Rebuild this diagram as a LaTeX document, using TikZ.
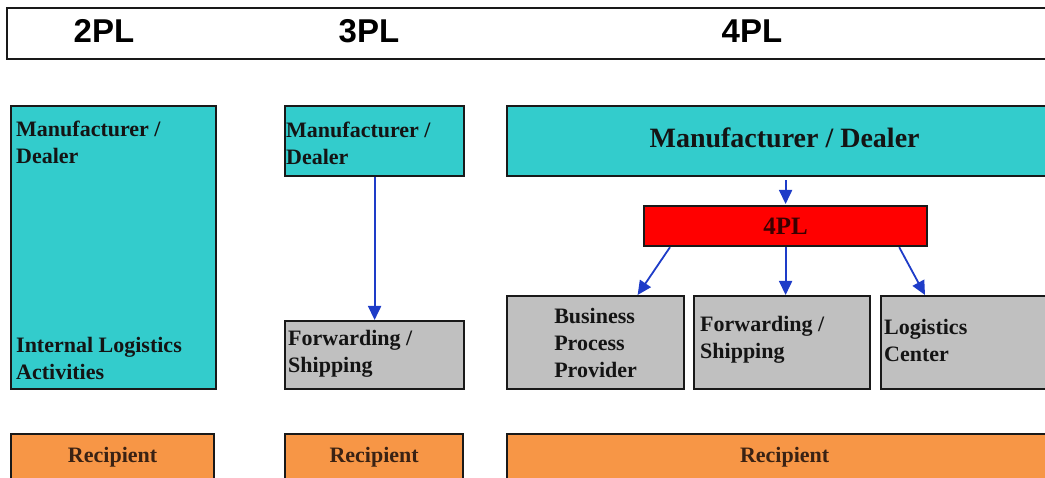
\documentclass[tikz,border=0pt]{standalone}
\usepackage{fontspec}
\setmainfont{Liberation Serif}
\setsansfont{Liberation Sans}
\usepackage{tikz}
\usetikzlibrary{positioning,arrows.meta}
\definecolor{boxcyan}{HTML}{33CCCC}
\definecolor{boxgray}{HTML}{C0C0C0}
\definecolor{boxorange}{HTML}{F79646}
\definecolor{boxred}{HTML}{FF0000}
\definecolor{flowblue}{HTML}{1E3CC8}
\definecolor{darktxt}{HTML}{141414}
\definecolor{pltxt}{HTML}{3A0000}
\definecolor{rectxt}{HTML}{3A2214}

\begin{document}
\begin{tikzpicture}[x=1pt,y=-1pt,
    box/.style={draw=black!90,line width=2.2pt,inner sep=0pt,anchor=north west},
    cyanbox/.style={box,fill=boxcyan},
    graybox/.style={box,fill=boxgray},
    orangebox/.style={box,fill=boxorange,minimum height=46pt,text=rectxt,
      font=\bfseries\fontsize{22}{27}\selectfont},
    lbl/.style={inner sep=0pt,align=left,text=darktxt,
      font=\bfseries\fontsize{22}{27}\selectfont},
    headlbl/.style={inner sep=0pt,font=\sffamily\bfseries\fontsize{33}{36}\selectfont},
    flow/.style={draw=flowblue,line width=1.8pt,-{Triangle[width=13pt,length=14pt]}}]
\useasboundingbox (0,0) rectangle (1045,478);
\clip (0,0) rectangle (1045,478);

% header
\node[box,fill=white,line width=2.4pt,minimum width=1060pt,minimum height=51pt] (head) at (6,7) {};
\node[headlbl] (h2) at (104,31) {2PL};
\node[headlbl] (h3) at (369,31) {3PL};
\node[headlbl] (h4) at (752,31) {4PL};

% 2PL
\node[cyanbox,minimum width=205pt,minimum height=283pt] (mfr2) at (10,105) {};
\node[lbl,below right=16pt and 6pt of mfr2.north west] (mfr2a) {Manufacturer /\\Dealer};
\node[lbl,above right=10pt and 6pt of mfr2.south west] (int2) {Internal Logistics\\Activities};
\node[orangebox,minimum width=203pt] (rec2) at (10,433) {Recipient};

% 3PL
\node[cyanbox,minimum width=179pt,minimum height=70pt] (mfr3) at (284,105) {};
\node[lbl,below right=17pt and 2pt of mfr3.north west] (mfr3a) {Manufacturer /\\Dealer};
\node[graybox,minimum width=179pt,minimum height=68pt] (fwd3) at (284,320) {};
\node[lbl,below right=10pt and 4pt of fwd3.north west] (fwd3a) {Forwarding /\\Shipping};
\node[orangebox,minimum width=178pt] (rec3) at (284,433) {Recipient};
\draw[flow] (mfr3) -- (fwd3);

% 4PL
\node[cyanbox,minimum width=555pt,minimum height=70pt,text=darktxt,
  font=\bfseries\fontsize{28}{30}\selectfont] (mfr4) at (506,105) {\raisebox{6pt}{Manufacturer / Dealer}};
\node[box,fill=boxred,minimum width=283pt,minimum height=40pt,text=pltxt,
  font=\bfseries\fontsize{25}{28}\selectfont] (pl4) at (643,205) {\raisebox{-3pt}{4PL}};
\node[graybox,lbl,minimum width=177pt,minimum height=93pt] (bpp4) at (506,295) {Business\\Process\\Provider};
\node[graybox,minimum width=176pt,minimum height=93pt] (fwd4) at (693,295) {};
\node[lbl,below right=21pt and 7pt of fwd4.north west] (fwd4a) {Forwarding /\\Shipping};
\node[graybox,minimum width=180pt,minimum height=93pt] (lc4) at (880,295) {};
\node[lbl,below right=24pt and 4pt of lc4.north west] (lc4a) {Logistics\\Center};
\node[orangebox,minimum width=555pt] (rec4) at (506,433) {Recipient};

\draw[flow,shorten <=3pt,shorten >=1pt] (mfr4.south -| pl4.north) -- (pl4.north);
\draw[flow] ([xshift=27pt]pl4.south west) -- ([xshift=42pt]bpp4.north);
\draw[flow] (pl4.south) -- (pl4.south |- fwd4.north);
\draw[flow] ([xshift=-29pt]pl4.south east) -- ([xshift=45pt]lc4.north west);
\end{tikzpicture}
\end{document}
